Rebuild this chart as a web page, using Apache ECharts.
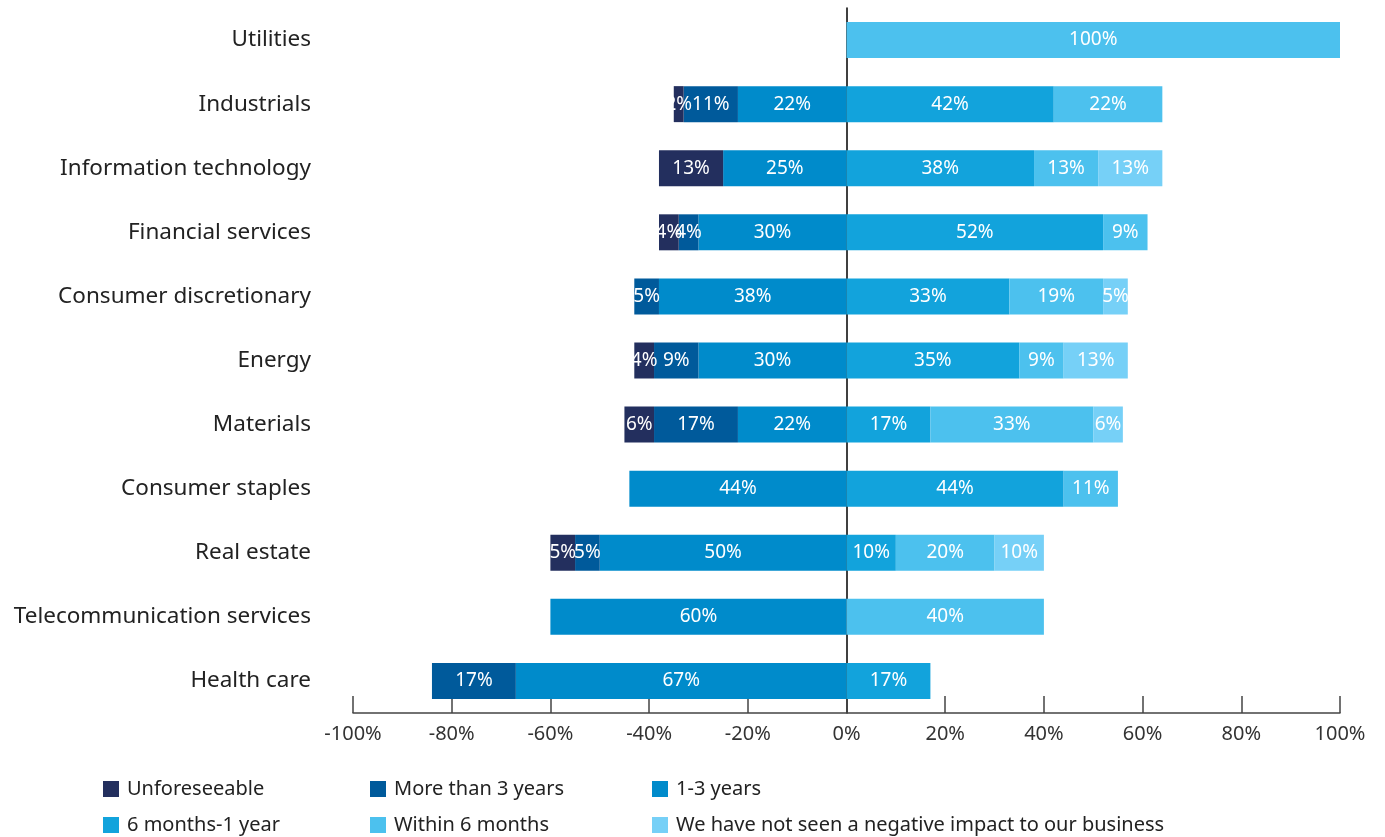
<!DOCTYPE html>
<html>
<head>
<meta charset="utf-8">
<script src="https://cdn.jsdelivr.net/npm/echarts@6/dist/echarts.min.js"></script>
<style>
html,body{margin:0;padding:0;background:#fff;}
#chart{width:1385px;height:837px;}
</style>
</head>
<body>
<div id="chart"></div>
<script>
const categories = ['Utilities','Industrials','Information technology','Financial services','Consumer discretionary','Energy','Materials','Consumer staples','Real estate','Telecommunication services','Health care'];
// negative side (shown left of zero)
const unforeseeable   = [0, 2, 13, 4, 0, 4, 6, 0, 5, 0, 0];
const moreThan3Years  = [0, 11, 0, 4, 5, 9, 17, 0, 5, 0, 17];
const oneToThreeYears = [0, 22, 25, 30, 38, 30, 22, 44, 50, 60, 67];
// positive side (shown right of zero)
const sixMonthsToYear = [0, 42, 38, 52, 33, 35, 17, 44, 10, 0, 17];
const within6Months   = [100, 22, 13, 9, 19, 9, 33, 11, 20, 40, 0];
const notSeenImpact   = [0, 0, 13, 0, 5, 13, 6, 0, 10, 0, 0];
const xTicks = [-100,-80,-60,-40,-20,0,20,40,60,80,100];

const names = ['Unforeseeable','More than 3 years','1-3 years','6 months-1 year','Within 6 months','We have not seen a negative impact to our business'];
const colors = ['#232F5E','#005A9B','#008BCB','#12A3DC','#4CC1EE','#76D0F7'];

const FONT = 'Noto Sans';
function mk(name, data, color, neg){
  return {
    name, type:'bar', stack:'total', barWidth:36,
    data: data.map(v => neg ? -v : v),
    itemStyle:{color},
    label:{show:true, position:'inside', color:'#fff', fontFamily:FONT, fontSize:19, padding:[5,0,0,0],
      formatter: p => p.value === 0 ? '' : Math.abs(p.value) + '%'},
    emphasis:{disabled:true}
  };
}
const series = [
  mk(names[2], oneToThreeYears, colors[2], true),
  mk(names[1], moreThan3Years, colors[1], true),
  mk(names[0], unforeseeable, colors[0], true),
  mk(names[3], sixMonthsToYear, colors[3], false),
  mk(names[4], within6Months, colors[4], false),
  mk(names[5], notSeenImpact, colors[5], false)
];
const legendPos = [[98,774],[365,774],[647,774],[98,810],[365,810],[647,810]];
const legends = names.map((n,i)=>({
  data:[n], left:legendPos[i][0], top:legendPos[i][1], itemWidth:16, itemHeight:16, itemGap:0,
  icon:'rect', textStyle:{fontFamily:FONT, fontSize:20, color:'#222', padding:[0,0,0,3]}, selectedMode:false
}));

const chart = echarts.init(document.getElementById('chart'));
chart.setOption({
  animation:false,
  color: colors,
  grid:{left:353, right:45, top:8, bottom:124},
  legend: legends,
  xAxis:{
    type:'value', min:-100, max:100, interval:20,
    axisLine:{show:true, lineStyle:{color:'#444', width:1.5}},
    axisTick:{show:true, inside:true, length:17, lineStyle:{color:'#444', width:1.5}},
    splitLine:{show:false},
    axisLabel:{fontFamily:FONT, fontSize:20, color:'#333', margin:11, formatter: v => v + '%'}
  },
  yAxis:{
    type:'category', data:categories, inverse:true,
    axisLine:{show:true, onZero:true, lineStyle:{color:'#000', width:1.5}},
    axisTick:{show:false},
    axisLabel:{fontFamily:FONT, fontSize:22.5, color:'#222', margin:42, padding:[7,0,0,0]}
  },
  series
});
</script>
</body>
</html>
